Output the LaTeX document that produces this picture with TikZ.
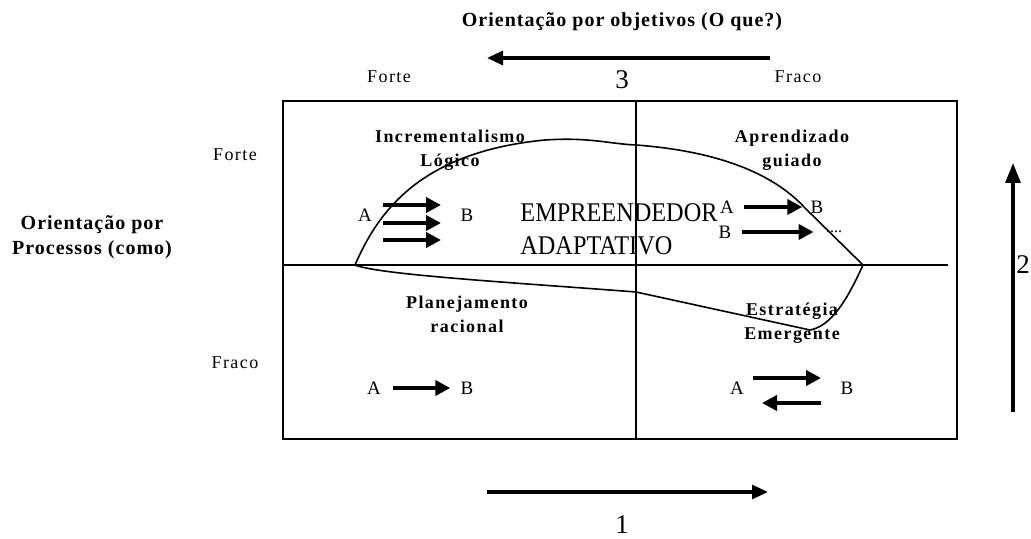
\documentclass[tikz,border=0pt]{standalone}
\usepackage{fontspec}
\setmainfont{Liberation Serif}
\newfontfamily\spaced[LetterSpace=8]{Liberation Serif}
\newfontfamily\tight[LetterSpace=5]{Liberation Serif}
\newfontfamily\narrow[FakeStretch=0.9]{Liberation Serif}
\usetikzlibrary{arrows.meta,positioning}

\begin{document}
\begin{tikzpicture}[x=0.5pt,y=-0.5pt,
	quad label/.style = {font=\spaced\bfseries\fontsize{9}{12}\selectfont, align=center, inner sep=0pt},
	side label/.style = {font=\spaced\fontsize{9}{12}\selectfont, inner sep=0pt},
	point/.style = {font=\fontsize{9.5}{11}\selectfont, inner sep=1pt},
	big digit/.style = {font=\fontsize{13.5}{14}\selectfont, inner sep=0pt},
	fat arrow/.style = {line width=2pt, -{Triangle[length=7.5pt,width=7.5pt]}},
	axis arrow/.style = {line width=1.6pt, -{Triangle[length=8pt,width=7pt]}}]
	
	\useasboundingbox (0,0) rectangle (1031,539);
	
	% quadrants
	\draw[line width=1pt] (283,101) rectangle (957,439);
	
	% region of the adaptive entrepreneur
	\draw[line width=0.8pt] (355,265) .. controls (378,212) and (420,152) .. (545,140)
		.. controls (590,137) and (610,144) .. (636,145)
		.. controls (715,151) and (772,172) .. (805,208) -- (863,265)
		.. controls (848,298) and (832,326) .. (810,330)
		-- (636,292) .. controls (520,283) and (380,275) .. (355,265);
	
	\draw[line width=0.8pt] (636,101) -- (636,439);
	\draw[line width=0.8pt] (283,265) -- (948,265);
	
	% axis titles
	\node[quad label, font=\tight\bfseries\fontsize{10}{12}\selectfont] (ends) at (622,22) {Orientação por objetivos (O que?)};
	\node[quad label, font=\tight\bfseries\fontsize{10}{12.5}\selectfont] (means) at (92,237) {Orientação por\\Processos (como)};
	
	\node[side label] (f1) at (389,77) {Forte};
	\node[side label] (w1) at (798,77) {Fraco};
	\node[side label] (f2) at (235,155) {Forte};
	\node[side label] (w2) at (235,363) {Fraco};
	
	% axis arrows
	\coordinate (3a) at (770,58);
	\coordinate (3b) at (487,58);
	\draw[axis arrow] (3a) -- (3b);
	\node[big digit] (3) at (622,80) {3};
	
	\coordinate (1a) at (487,492);
	\coordinate (1b) at (768,492);
	\draw[axis arrow] (1a) -- (1b);
	\node[big digit] (1) at (622,525) {1};
	
	\coordinate (2a) at (1013,412);
	\coordinate (2b) at (1013,163);
	\draw[axis arrow, -{Triangle[length=10pt,width=7.5pt]}] (2a) -- (2b);
	\node[big digit] (2) at (1023,265) {2};
	
	% quadrant names
	\node[quad label] (inc) at (450,150) {Incrementalismo\\Lógico};
	\node[quad label] (apr) at (792,150) {Aprendizado\\guiado};
	\node[quad label] (pla) at (467,314) {Planejamento\\racional};
	\node[quad label] (est) at (792,323) {Estratégia\\Emergente};
	\node[font=\narrow\fontsize{13.5}{16.5}\selectfont, align=left, anchor=west, inner sep=0pt] (emp) at (520,229) {EMPREENDEDOR\\ADAPTATIVO};
	
	% Incrementalismo
	\node[point] (iA) at (365,215) {A};
	\node[point] (iB) at (467,215) {B};
	\foreach \y [count=\i] in {205,223,240} {
		\coordinate (i\i a) at (383,\y);
		\coordinate (i\i b) at (441,\y);
		\draw[fat arrow] (i\i a) -- (i\i b);
	}
	
	% Planejamento
	\node[point] (pA) at (374,388) {A};
	\node[point] (pB) at (467,388) {B};
	\draw[fat arrow, shorten <=5pt, shorten >=4pt] (pA) -- (pB);
	
	% Aprendizado
	\node[point] (aA) at (727,207) {A};
	\node[point] (aB) at (817,207) {B};
	\draw[fat arrow, shorten <=4pt, shorten >=3pt] (aA) -- (aB);
	\node[point] (aB2) at (725,232) {B};
	\node[point, font=\fontsize{8}{9}\selectfont] (dots) at (834,232) {....};
	\draw[fat arrow, shorten <=4pt, shorten >=5pt] (aB2) -- (aB2 -| dots.west);
	
	% Estrategia
	\node[point] (eA) at (737,388) {A};
	\node[point] (eB) at (847,388) {B};
	\coordinate (e1a) at (753,378);
	\coordinate (e1b) at (821,378);
	\coordinate (e2a) at (821,403);
	\coordinate (e2b) at (762,403);
	\draw[fat arrow] (e1a) -- (e1b);
	\draw[fat arrow] (e2a) -- (e2b);
	
\end{tikzpicture}
\end{document}
